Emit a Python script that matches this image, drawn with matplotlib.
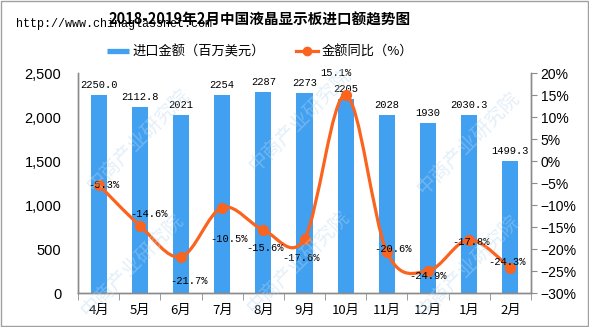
import matplotlib
matplotlib.use("Agg")
import matplotlib.pyplot as plt
from matplotlib.path import Path
from matplotlib.patches import PathPatch, Rectangle
from matplotlib.lines import Line2D
from matplotlib.ticker import FixedLocator, FuncFormatter

plt.rcParams['font.family'] = ['Noto Sans CJK SC', 'DejaVu Sans']

months = ["4月", "5月", "6月", "7月", "8月", "9月", "10月", "11月", "12月", "1月", "2月"]
imports = [2250.0, 2112.8, 2021, 2254, 2287, 2273, 2205, 2028, 1930, 2030.3, 1499.3]
import_labels = ["2250.0", "2112.8", "2021", "2254", "2287", "2273", "2205", "2028", "1930", "2030.3", "1499.3"]
yoy = [-5.3, -14.6, -21.7, -10.5, -15.6, -17.6, 15.1, -20.6, -24.9, -17.8, -24.3]

# label offsets in pixels (dx, dy) relative to the marker
pct_offsets = [(5, 0), (9, 12), (8, -24), (7, -32), (2, -18), (-3, -19),
               (-10, 22), (6, 3), (0, -5), (2, -2), (-3, 6)]

blue = "#41a0f0"
orange = "#fa641e"
grey = "#8c8c8c"

fig = plt.figure(figsize=(5.89, 3.27), dpi=100)
ax = fig.add_axes([78 / 589, 1 - 293.3 / 327, 453 / 589, 220 / 327])
ax2 = ax.twinx()

x = list(range(len(months)))
bars = ax.bar(x, imports, width=0.39, color=blue, zorder=2)
for xi, v, lab in zip(x, imports, import_labels):
    ax.annotate(lab, (xi, v), xytext=(0, 10), textcoords="offset pixels",
                ha="center", va="center", fontsize=7.5, family="Liberation Mono")

ax.set_xlim(-0.5, len(months) - 0.5)
ax.set_ylim(0, 2500)
ax.set_yticks([0, 500, 1000, 1500, 2000, 2500])
ax.yaxis.set_major_formatter(FuncFormatter(lambda v, p: f"{v:,.0f}"))
ax.tick_params(axis="y", length=0, pad=12, labelsize=10.5)
for lab in ax.get_yticklabels():
    lab.set_family("Liberation Sans")
ax.set_xticks(x)
ax.set_xticklabels(months, fontsize=9.5)
ax.xaxis.set_minor_locator(FixedLocator([i - 0.5 for i in range(len(months) + 1)]))
ax.tick_params(axis="x", which="major", length=0, pad=8)
ax.tick_params(axis="x", which="minor", length=5, color=grey, direction="out")

# smoothed line drawn as cubic bezier through the data points
n = len(yoy)
verts = [(x[0], yoy[0])]
codes = [Path.MOVETO]
for i in range(n - 1):
    p0 = (x[i - 1], yoy[i - 1]) if i > 0 else (x[i], yoy[i])
    p1 = (x[i], yoy[i])
    p2 = (x[i + 1], yoy[i + 1])
    p3 = (x[i + 2], yoy[i + 2]) if i + 2 < n else p2
    c1 = (p1[0] + (p2[0] - p0[0]) / 6, p1[1] + (p2[1] - p0[1]) / 6)
    c2 = (p2[0] - (p3[0] - p1[0]) / 6, p2[1] - (p3[1] - p1[1]) / 6)
    verts += [c1, c2, p2]
    codes += [Path.CURVE4] * 3
ax2.add_patch(PathPatch(Path(verts, codes), facecolor="none", edgecolor=orange,
                        lw=2.3, zorder=3, capstyle="round"))
ax2.plot(x, yoy, "o", color=orange, ms=7, zorder=4)
for xi, v, off in zip(x, yoy, pct_offsets):
    ax2.annotate(f"{v:.1f}%", (xi, v), xytext=off, textcoords="offset pixels",
                 ha="center", va="center", fontsize=7.5, family="Liberation Mono", zorder=5)

ax2.set_ylim(-30, 20)
ax2.set_yticks(range(-30, 21, 5))
ax2.yaxis.set_major_formatter(FuncFormatter(lambda v, p: f"{v:.0f}%".replace("-", "\u2212")))
ax2.tick_params(axis="y", length=4, color=grey, pad=3, labelsize=10)
for lab in ax2.get_yticklabels():
    lab.set_family("Liberation Sans")

for a in (ax, ax2):
    a.spines["top"].set_visible(False)
    for s in ("left", "right", "bottom"):
        a.spines[s].set_color(grey)
        a.spines[s].set_linewidth(1)

# title, source url and legend
fig.text(260 / 589, 1 - 20 / 327, "2018-2019年2月中国液晶显示板进口额趋势图",
         ha="center", va="center", fontsize=10.5, fontweight="bold")
fig.text(16 / 589, 1 - 24 / 327, "http://www.chinaglassnet.com", ha="left", va="center",
         fontsize=8.5, family="Liberation Mono")

handles = [Line2D([], [], color=blue, lw=3.8, solid_capstyle="butt"),
           Line2D([], [], color=orange, lw=2.3, marker="o", ms=6)]
fig.legend(handles, ["进口金额（百万美元）", "金额同比（%）"], loc="center",
           bbox_to_anchor=(260 / 589, 1 - 52 / 327), ncol=2, frameon=False,
           fontsize=9.5, handlelength=1.7, handletextpad=0.25, columnspacing=2.3)

# watermark
for cx, cy in [(138, 140), (132, 265), (298, 262), (300, 120), (468, 143), (468, 266)]:
    fig.text(cx / 589, 1 - cy / 327, "中商产业研究院", rotation=45, ha="center", va="center",
             fontsize=14, color="#b9d7ef", alpha=0.4, zorder=10)

fig.patches.append(Rectangle((0.001, 0.002), 0.997, 0.995, transform=fig.transFigure,
                             fill=False, edgecolor="#a0a0a0", lw=1))

fig.savefig("out.png", dpi=100)
